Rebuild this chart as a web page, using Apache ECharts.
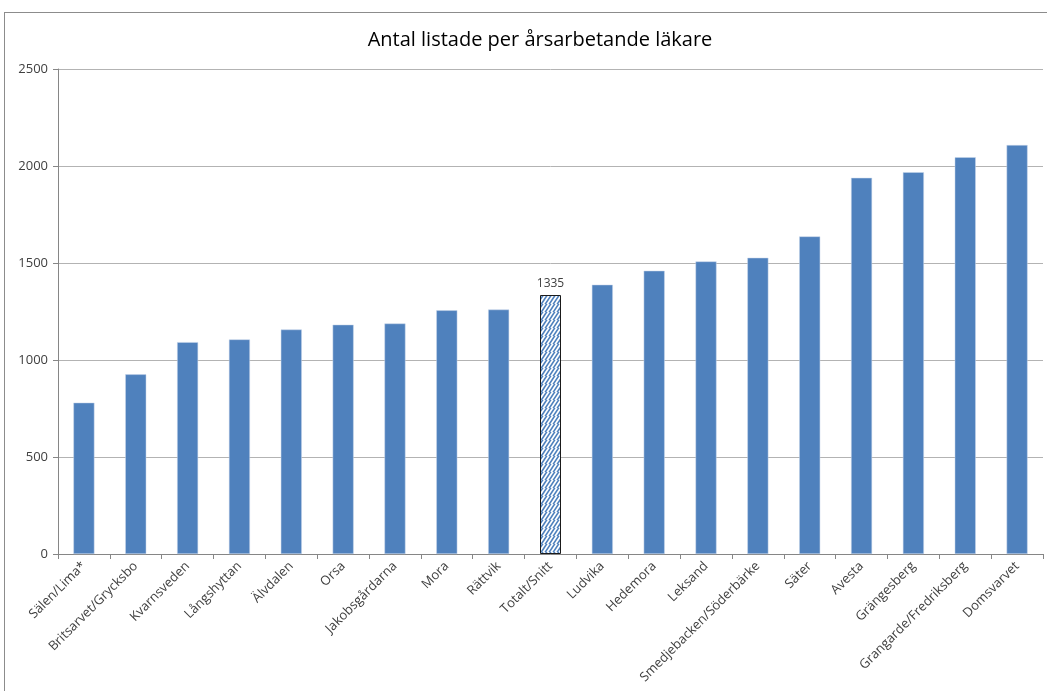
<!DOCTYPE html>
<html>
<head>
<meta charset="utf-8">
<script src="https://cdn.jsdelivr.net/npm/echarts@6/dist/echarts.min.js"></script>
<style>
  html, body { margin: 0; padding: 0; background: #fff; }
  .frame {
    position: absolute;
    left: 4px;
    top: 12px;
    width: 1060px;
    height: 700px;
    border: 1px solid #8c8c8c;
    box-sizing: border-box;
  }
  #chart {
    position: absolute;
    left: 0;
    top: 0;
    width: 1047px;
    height: 691px;
  }
</style>
</head>
<body>
<div class="frame"></div>
<div id="chart"></div>
<script>
// vårdcentraler, sorterade efter antal listade
const categories = [
  'Sälen/Lima*', 'Britsarvet/Grycksbo', 'Kvarnsveden', 'Långshyttan', 'Älvdalen',
  'Orsa', 'Jakobsgårdarna', 'Mora', 'Rättvik', 'Totalt/Snitt',
  'Ludvika', 'Hedemora', 'Leksand', 'Smedjebacken/Söderbärke', 'Säter',
  'Avesta', 'Grängesberg', 'Grangarde/Fredriksberg', 'Domsvarvet'
];
const values = [
  780, 926, 1092, 1106, 1157,
  1182, 1188, 1256, 1260, 1335,
  1388, 1460, 1508, 1527, 1637,
  1939, 1968, 2045, 2108
];
const totalName = 'Totalt/Snitt';

// randigt mönster för snittstapeln (blå snedstreck på vitt)
function makeHatch() {
  const s = 8;
  const c = document.createElement('canvas');
  c.width = s;
  c.height = s;
  const ctx = c.getContext('2d');
  ctx.fillStyle = '#ffffff';
  ctx.fillRect(0, 0, s, s);
  ctx.strokeStyle = '#4F81BD';
  ctx.lineWidth = 1.6;
  ctx.lineCap = 'square';
  ctx.beginPath();
  for (let k = -s; k <= 2 * s; k += 4) {
    ctx.moveTo(k - s, s + s);
    ctx.lineTo(k + s, 0 - s);
  }
  ctx.stroke();
  return c;
}

const chart = echarts.init(document.getElementById('chart'));
const hatch = makeHatch();

const barData = categories.map((name, i) => {
  if (name === totalName) {
    return {
      value: values[i],
      itemStyle: {
        color: { image: hatch, repeat: 'repeat' },
        borderColor: '#1a1a1a',
        borderWidth: 1
      },
      label: {
        show: true,
        position: 'top',
        color: '#404040',
        fontSize: 12,
        fontFamily: 'Open Sans',
        distance: 5
      }
    };
  }
  return values[i];
});

chart.setOption({
  animation: false,
  title: {
    text: 'Antal listade per årsarbetande läkare',
    left: 535,
    textAlign: 'center',
    top: 25,
    textStyle: {
      fontFamily: 'Open Sans',
      fontWeight: 'normal',
      fontSize: 20,
      color: '#000'
    }
  },
  grid: {
    left: 58,
    right: 4,
    top: 69,
    bottom: 137
  },
  xAxis: {
    type: 'category',
    data: categories,
    axisLine: { lineStyle: { color: '#868686' } },
    axisTick: { show: true, length: 5, lineStyle: { color: '#868686' } },
    axisLabel: {
      interval: 0,
      rotate: 45,
      color: '#404040',
      fontSize: 13,
      fontFamily: 'Open Sans',
      margin: 10
    }
  },
  yAxis: {
    type: 'value',
    min: 0,
    max: 2500,
    interval: 500,
    axisLine: { show: true, lineStyle: { color: '#868686' } },
    axisTick: { show: true, length: 5, lineStyle: { color: '#868686' } },
    splitLine: { lineStyle: { color: '#b3b3b3' } },
    axisLabel: {
      color: '#404040',
      fontSize: 13,
      fontFamily: 'Open Sans',
      margin: 10,
      formatter: v => String(v)
    }
  },
  series: [
    {
      type: 'bar',
      data: barData,
      barWidth: 21,
      itemStyle: {
        color: '#4F81BD',
        borderColor: '#c9d7ea',
        borderWidth: 0.5
      }
    }
  ]
});
</script>
</body>
</html>
